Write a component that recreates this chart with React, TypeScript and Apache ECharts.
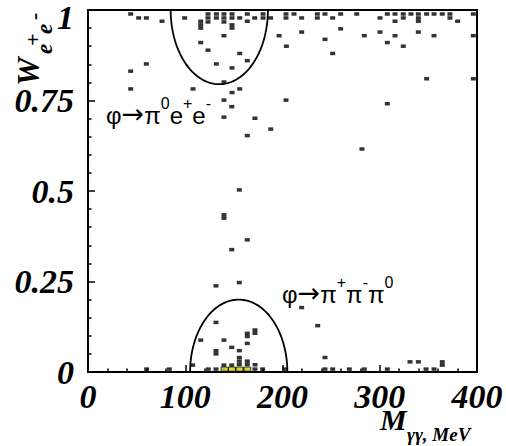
import React, { useEffect, useRef } from 'react';
import * as echarts from 'echarts';

const SERIF = 'Liberation Serif';
const SANS = 'Liberation Sans';

// axis ranges / ticks
const xRange = [0, 400];
const xStep = 100;
const yRange = [0, 1];
const yStep = 0.25;

// events near W = 1 (upper band)
const topPoints: [number, number][] = [
  [43.9, 0.989], [52.1, 0.978], [60, 0.978], [76.1, 0.969], [99.4, 0.978],
  [115.9, 0.969], [115.9, 0.959], [115.9, 0.95],
  [123.4, 0.989], [123.4, 0.978], [123.4, 0.967],
  [132, 0.989], [132, 0.978],
  [139.8, 0.989], [139.8, 0.978], [139.8, 0.967],
  [148.1, 0.989], [148.1, 0.978], [148.1, 0.959], [148.1, 0.95],
  [156, 0.978], [163.8, 0.989], [163.8, 0.969], [171.4, 0.978], [180, 0.989], [180, 0.978], [187.8, 0.978],
  [196.5, 0.929], [139.8, 0.929], [204, 0.9], [115.9, 0.91], [123.4, 0.889], [156, 0.88], [163.8, 0.86],
  [132, 0.851], [148.1, 0.84], [60, 0.851], [43.9, 0.831], [139.8, 0.801], [43.9, 0.782], [108, 0.782],
  [156, 0.782], [148.1, 0.772],
  [203.6, 0.989], [203.6, 0.978], [211.8, 0.989], [219.7, 0.978], [235.8, 0.989], [235.8, 0.978],
  [243.7, 0.989], [251.6, 0.978], [259.8, 0.989], [276.3, 0.989], [300.3, 0.978], [307.8, 0.989],
  [315.7, 0.989], [315.7, 0.969], [324.2, 0.989], [324.2, 0.978], [332.1, 0.989], [339.7, 0.989],
  [339.7, 0.978], [339.7, 0.969], [348.2, 0.989], [355.8, 0.989], [364.3, 0.989], [372.2, 0.989],
  [372.2, 0.978], [380.1, 0.969], [396.2, 0.989],
  [219.7, 0.939], [259.8, 0.948], [243.7, 0.919], [251.6, 0.88], [284.1, 0.929], [300.3, 0.939],
  [315.7, 0.929], [307.8, 0.91], [324.2, 0.9], [339.7, 0.939], [355.8, 0.929], [396.2, 0.929],
  [348.2, 0.81], [396.2, 0.81],
];

// events in the middle
const midPoints: [number, number][] = [
  [203.6, 0.751], [307.8, 0.741], [281.7, 0.616], [139.8, 0.751], [147.8, 0.733], [139.8, 0.704],
  [171.7, 0.701], [187.9, 0.671], [163.8, 0.653], [155.6, 0.503], [139.8, 0.434], [139.8, 0.425],
  [163.8, 0.365], [147.8, 0.338],
];

// events near W = 0 (lower band)
const lowPoints: [number, number][] = [
  [131.6, 0.238], [155.6, 0.247], [219.7, 0.178], [236.2, 0.128], [131.6, 0.137], [115.9, 0.088],
  [139.8, 0.088], [147.8, 0.068], [131.6, 0.059], [131.6, 0.05], [155.6, 0.059], [163.8, 0.107],
  [163.8, 0.098], [171.7, 0.116], [171.7, 0.107], [163.8, 0.079], [155.6, 0.04], [155.6, 0.03],
  [155.6, 0.02], [163.8, 0.03], [163.8, 0.02], [171.8, 0.02], [107.6, 0.019], [139.8, 0.019],
  [147.8, 0.019], [243.7, 0.04], [331.1, 0.028], [339.7, 0.028], [364.3, 0.028], [364.3, 0.019],
];

// events on the floor row
const floorX = [60.3, 83.6, 123.7, 131.6, 171.7, 179.6, 202.6, 243.7, 251.6, 268.7, 284.1, 307.8, 347.6, 355.8];
const floorY = 0.008;

// highlighted (yellow) events
const yellowX = [140.5, 148, 155.9, 163.8];
const yellowY = [0.008, 0.008, 0.008, 0.008];

// selection ellipses: centre, radii, start angle (half ellipse)
const ellipseCX = [135, 155];
const ellipseCY = [1, 0];
const ellipseRX = [50, 50];
const ellipseRY = [0.205, 0.2];
const ellipseStart = [Math.PI, 0];

export default function App() {
  const ref = useRef<HTMLDivElement>(null);

  useEffect(() => {
    const chart = echarts.init(ref.current!, null, { renderer: 'svg' });
    const blackData = [
      ...topPoints,
      ...midPoints,
      ...lowPoints,
      ...floorX.map((x) => [x, floorY]),
    ];
    const yellowData = yellowX.map((x, i) => [x, yellowY[i]]);
    const ellipseData = ellipseCX.map((cx, i) => [cx, ellipseCY[i], ellipseRX[i], ellipseRY[i], ellipseStart[i]]);

    const labelFont = {
      fontFamily: SERIF,
      fontStyle: 'italic',
      fontWeight: 'bold',
      fontSize: 34,
      color: '#000',
    };
    const bi = { fontFamily: SERIF, fontStyle: 'italic', fontWeight: 'bold', fill: '#000' };
    const t = (text: string, lx: number, ly: number, size: number) => ({
      type: 'text',
      x: lx,
      y: ly,
      style: { text, ...bi, fontSize: size, align: 'left', verticalAlign: 'middle' },
    });
    const decayRich = {
      m: { fontFamily: SANS, fontSize: 24, lineHeight: 32, verticalAlign: 'bottom', fill: '#000' },
      r: { fontFamily: 'DejaVu Sans', fontSize: 27, lineHeight: 32, verticalAlign: 'bottom', fill: '#000' },
      s: { fontFamily: SANS, fontSize: 16, lineHeight: 16, verticalAlign: 'top', fill: '#000' },
    };

    const option: any = {
      animation: false,
      backgroundColor: '#fff',
      textStyle: { fontFamily: SERIF, fontStyle: 'italic', fontWeight: 'bold' },
      grid: {
        left: 88,
        right: 29,
        top: 10,
        bottom: 74,
        show: true,
        borderColor: '#000',
        borderWidth: 2,
        backgroundColor: 'transparent',
      },
      xAxis: {
        type: 'value',
        min: xRange[0],
        max: xRange[1],
        interval: xStep,
        axisLine: { show: true, lineStyle: { color: '#000', width: 2 } },
        axisTick: { show: true, inside: true, length: 7, lineStyle: { color: '#000', width: 1.5 } },
        minorTick: { show: true, splitNumber: 5, length: 3.5, lineStyle: { color: '#000', width: 1.5 } },
        splitLine: { show: false },
        axisLabel: {
          ...labelFont,
          lineHeight: 24,
          margin: 12,
          formatter: (v: number) => `{a|${v}}`,
          rich: { a: { ...labelFont, lineHeight: 24 } },
        },
      },
      yAxis: {
        type: 'value',
        min: yRange[0],
        max: yRange[1],
        interval: yStep,
        axisLine: { show: true, lineStyle: { color: '#000', width: 2 } },
        axisTick: { show: true, inside: true, length: 7, lineStyle: { color: '#000', width: 1.5 } },
        minorTick: { show: true, splitNumber: 5, length: 3.5, lineStyle: { color: '#000', width: 1.5 } },
        splitLine: { show: false },
        axisLabel: {
          ...labelFont,
          margin: 14,
          formatter: (v: number) => (v === 1 ? '{t|1}' : `{a|${v}}`),
          rich: { a: { ...labelFont }, t: { ...labelFont, padding: [14, 0, 0, 0] } },
        },
      },
      series: [
        {
          type: 'custom',
          coordinateSystem: 'cartesian2d',
          data: ellipseData,
          clip: false,
          silent: true,
          renderItem: (params: any, api: any) => {
            const cx = api.value(0);
            const cy = api.value(1);
            const rx = api.value(2);
            const ry = api.value(3);
            const a0 = api.value(4);
            const pts: number[][] = [];
            const n = 90;
            for (let k = 0; k <= n; k++) {
              const ang = a0 + (Math.PI * k) / n;
              pts.push(api.coord([cx + rx * Math.cos(ang), cy + ry * Math.sin(ang)]));
            }
            return {
              type: 'polyline',
              shape: { points: pts },
              style: { stroke: '#000', lineWidth: 1.8, fill: 'none' },
            };
          },
        },
        {
          type: 'scatter',
          data: blackData,
          symbol: 'rect',
          symbolSize: [5, 3.5],
          itemStyle: { color: '#000' },
          silent: true,
        },
        {
          type: 'scatter',
          data: yellowData,
          symbol: 'rect',
          symbolSize: [7, 4],
          itemStyle: { color: '#d8cc00', borderColor: '#000', borderWidth: 0.8 },
          silent: true,
        },
      ],
      graphic: [
        // y-axis title W_{e+e-} (rotated group: local x -> screen up, local y -> screen right)
        {
          type: 'group',
          x: 0,
          y: 86,
          rotation: Math.PI / 2,
          children: [
            t('W', 0, 27.5, 32),
            t('e', 32, 44, 23),
            t('+', 40, 32, 22),
            t('e', 52, 44, 23),
            t('-', 66, 33, 22),
          ],
        },
        // x-axis title M_{γγ, MeV}
        {
          type: 'text', x: 380, y: 419,
          style: { text: 'M', ...bi, fontSize: 30, lineHeight: 20, align: 'left', verticalAlign: 'middle' },
        },
        {
          type: 'text', x: 407, y: 434,
          style: { text: 'γγ, MeV', ...bi, fontSize: 19, lineHeight: 14, align: 'left', verticalAlign: 'middle' },
        },
        // decay labels
        {
          type: 'text', x: 106, y: 95,
          style: {
            text: '{m|φ}{r|→}{m|π}{s|0}{m|e}{s|+}{m|e}{s|-}',
            align: 'left', verticalAlign: 'top',
            rich: decayRich,
          },
        },
        {
          type: 'text', x: 282, y: 274,
          style: {
            text: '{m|φ}{r|→}{m|π}{s|+}{m|π}{s|-}{m|π}{s|0}',
            align: 'left', verticalAlign: 'top',
            rich: decayRich,
          },
        },
      ],
    };

    chart.setOption(option);
    return () => chart.dispose();
  }, []);

  return (
    <div
      ref={ref}
      style={{ position: 'fixed', left: 0, top: 0, width: 506, height: 446, background: '#fff' }}
    />
  );
}
